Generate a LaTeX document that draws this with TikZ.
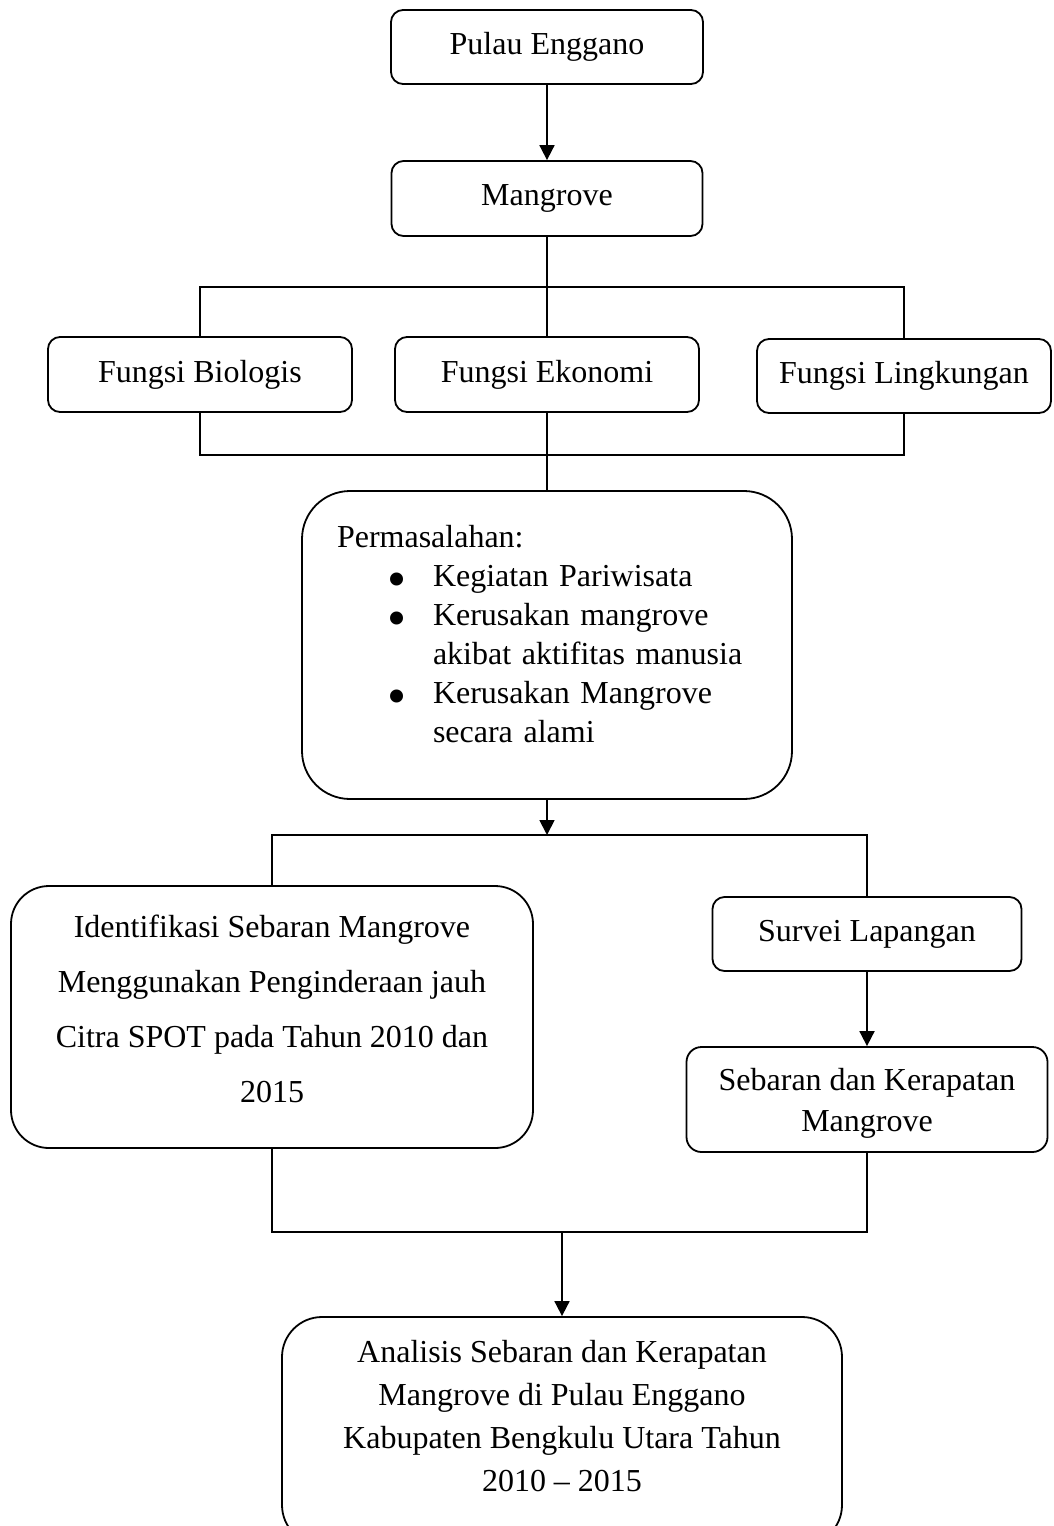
\documentclass[tikz,border=0pt]{standalone}
\usepackage{fontspec}
\setmainfont{Liberation Serif}
\usepackage{graphicx}
\usetikzlibrary{arrows.meta, positioning, calc}

\newcommand{\blt}{\hspace*{50pt}\makebox[46pt][l]{\raisebox{-11pt}[0pt][0pt]{\scalebox{1.7}{\textbullet}}}}

\begin{document}
\begin{tikzpicture}[x=1pt, y=-1pt,
    box/.style={draw, line width=1.8pt, rounded corners=12pt, align=center, inner sep=0pt, font=\fontsize{32}{39}\selectfont},
    link/.style={line width=1.8pt},
    arr/.style={link, -{Triangle[length=15pt, width=15pt]}}]

    % Page frame
    \useasboundingbox (0,0) rectangle (1053,1526);
    \clip (0,0) rectangle (1053,1526);

    % Top chain
    \node[box, minimum width=312pt, minimum height=74pt] (enggano) at (547,47) {Pulau Enggano};
    \node[box, minimum width=311pt, minimum height=75pt] (mangrove) at (547,198.5) {Mangrove};

    % Functions
    \node[box, minimum width=304pt, minimum height=75pt] (bio) at (200,374.5) {Fungsi Biologis};
    \node[box, minimum width=304pt, minimum height=75pt] (eko) at (547,374.5) {Fungsi Ekonomi};
    \node[box, minimum width=294pt, minimum height=74pt] (ling) at (904,376) {Fungsi Lingkungan};

    % Problems
    \node[box, rounded corners=48pt, minimum width=490pt, minimum height=308pt,
          text width=420pt, align=left, text depth=218pt] (masalah) at (547,645)
        {Permasalahan:\\
         \blt Kegiatan Pariwisata\\
         \blt Kerusakan mangrove\\
         \hspace*{96pt}akibat aktifitas manusia\\
         \blt Kerusakan Mangrove\\
         \hspace*{96pt}secara alami};

    % Methods
    \node[box, rounded corners=38pt, minimum width=522pt, minimum height=262pt,
          font=\fontsize{32}{55}\selectfont, text depth=17pt] (ident) at (272,1017)
        {Identifikasi Sebaran Mangrove\\ Menggunakan Penginderaan jauh\\ Citra SPOT pada Tahun 2010 dan\\ 2015};
    \node[box, minimum width=309pt, minimum height=74pt] (survei) at (867,934) {Survei Lapangan};
    \node[box, rounded corners=15pt, minimum width=361pt, minimum height=105pt,
          font=\fontsize{32}{41}\selectfont, text depth=0pt] (sebaran) at (867,1099.5)
        {Sebaran dan Kerapatan\\ Mangrove};

    % Result
    \node[box, rounded corners=40pt, minimum width=560pt, minimum height=228pt,
          font=\fontsize{32}{43}\selectfont, text depth=30pt] (analisis) at (562,1431)
        {Analisis Sebaran dan Kerapatan\\ Mangrove di Pulau Enggano\\ Kabupaten Bengkulu Utara Tahun\\ 2010 – 2015};

    % Junction points
    \coordinate (top) at (547,287);
    \coordinate (bus) at (547,455);
    \coordinate (split) at (547,835);
    \coordinate (merge) at (562,1232);

    % Connectors
    \draw[arr] (enggano) -- (mangrove);
    \draw[link] (mangrove) -- (eko);
    \draw[link] (bio.north) |- (top) -| (ling.north);
    \draw[link] (bio.south) |- (bus) -| (ling.south);
    \draw[link] (eko) -- (masalah);
    \draw[arr] (masalah) -- (split);
    \draw[link] (ident.north) |- (split) -| (survei.north);
    \draw[arr] (survei) -- (sebaran);
    \draw[link] (ident.south) |- (merge) -| (sebaran.south);
    \draw[arr] (merge) -- (analisis);

\end{tikzpicture}
\end{document}
